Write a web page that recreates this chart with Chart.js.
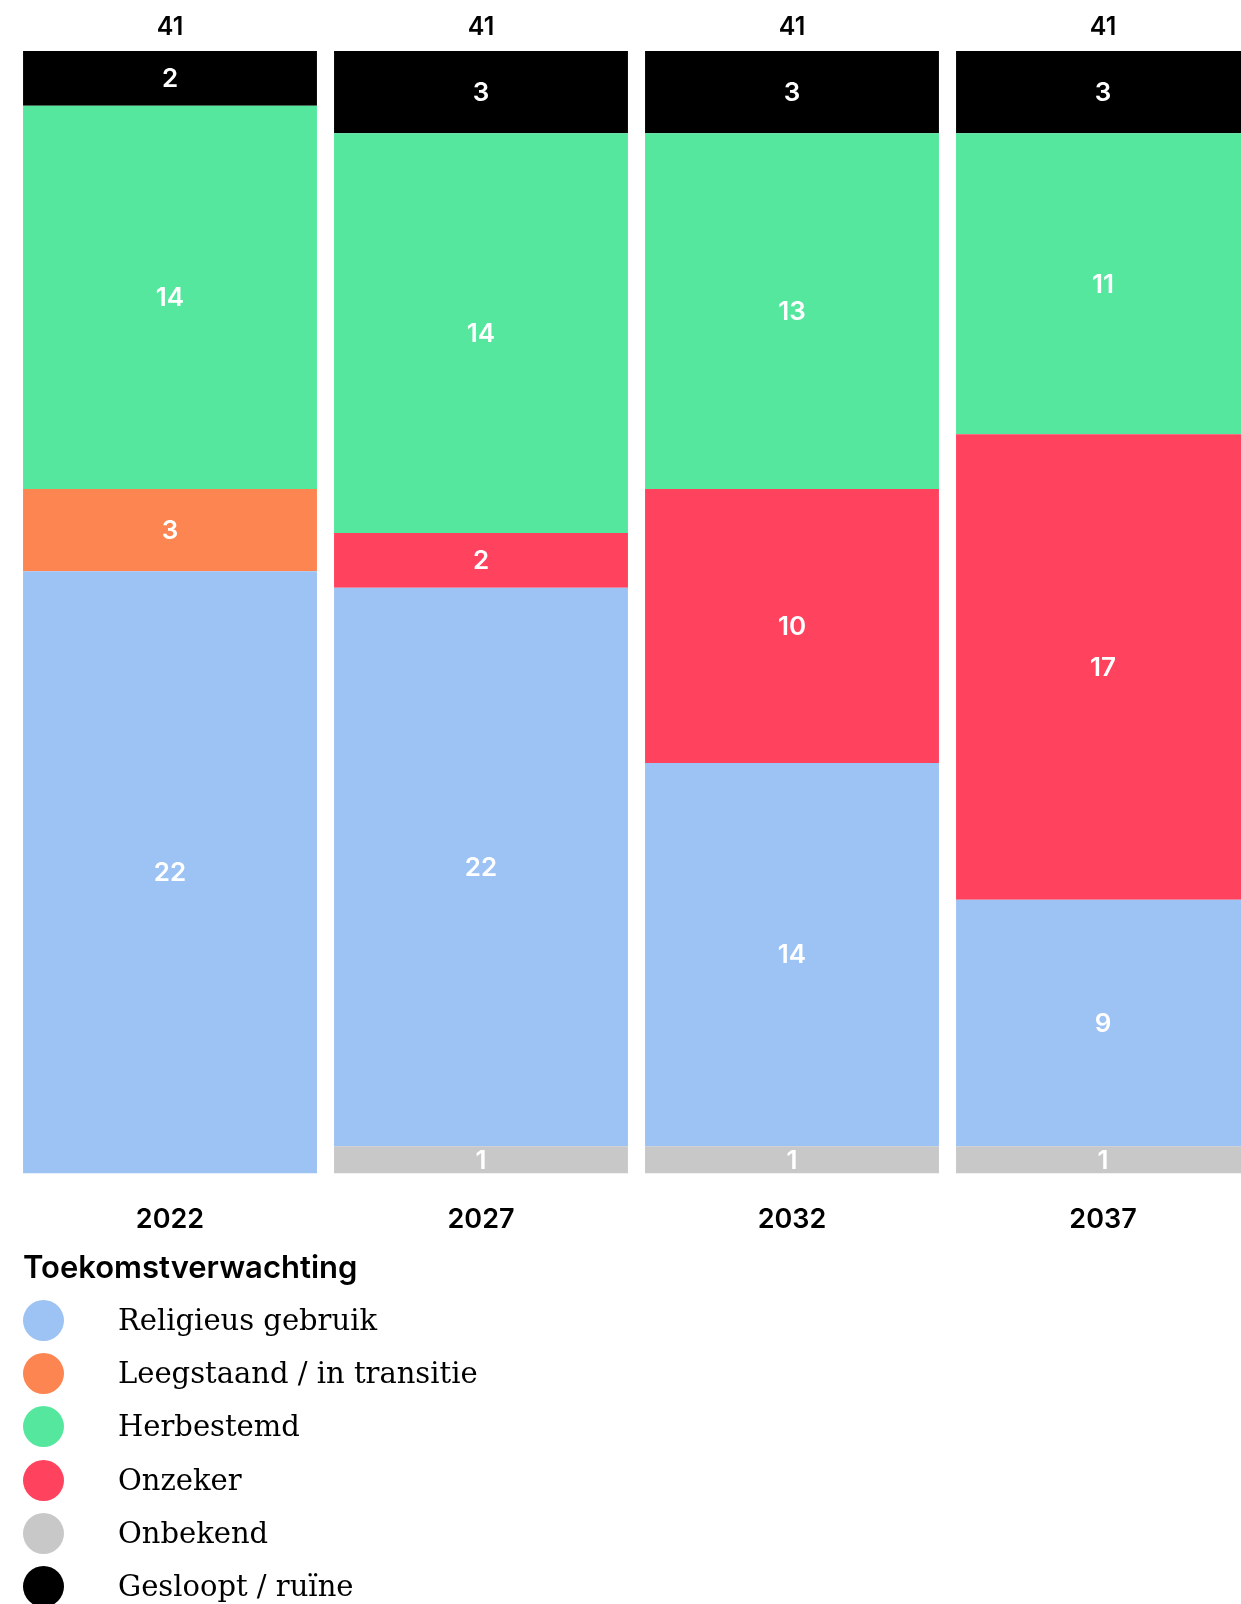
<!DOCTYPE html>
<html>
<head>
<meta charset="utf-8">
<script src="https://cdn.jsdelivr.net/npm/chart.js@4"></script>
<style>
  body { margin: 0; background: #fff; overflow: hidden; width: 1241px; height: 1604px; position: relative; }
  #wrap { position: absolute; left: 0; top: 0; width: 1241px; height: 1264px; overflow: hidden; }
  #legend { position: absolute; left: 23px; top: 1248px; }
  #legend .title { font-family: Inter, sans-serif; font-weight: 600; font-size: 31px; color: #000; height: 38px; line-height: 38px; margin-bottom: 14px; }
  #legend .item { position: relative; height: 53.2px; }
  #legend .dot { position: absolute; left: 0; top: 0; width: 41px; height: 41px; border-radius: 50%; }
  #legend .lbl { position: absolute; left: 95px; top: 20px; transform: translateY(-50%); font-family: "DejaVu Serif", serif; font-size: 29px; color: #000; white-space: nowrap; }
</style>
</head>
<body>
<div id="wrap"><canvas id="kerken" width="1270" height="1264"></canvas></div>
<div id="legend"></div>
<script>
// ---------------- data ----------------
const years = ['2022', '2027', '2032', '2037'];

const onbekend   = [0, 1, 1, 1];
const religieus  = [22, 20.4, 14, 9];
const leegstaand = [3, 0, 0, 0];
const onzeker    = [0, 2, 10, 17];
const herbestemd = [14, 14.6, 13, 11];
const gesloopt   = [2, 3, 3, 3];

// getallen zoals ze in de balken staan
const religieusShown  = [22, 22, 14, 9];
const herbestemdShown = [14, 14, 13, 11];

const totals = [41, 41, 41, 41];

const kleuren = {
  onbekend: '#c8c8c8',
  religieus: '#9dc2f4',
  leegstaand: '#fd8551',
  onzeker: '#ff425e',
  herbestemd: '#55e79e',
  gesloopt: '#000000'
};

// ---------------- chart ----------------
const datasets = [
  { label: 'Onbekend', data: onbekend, backgroundColor: kleuren.onbekend },
  { label: 'Religieus gebruik', data: religieus, shown: religieusShown, backgroundColor: kleuren.religieus },
  { label: 'Leegstaand / in transitie', data: leegstaand, backgroundColor: kleuren.leegstaand },
  { label: 'Onzeker', data: onzeker, backgroundColor: kleuren.onzeker },
  { label: 'Herbestemd', data: herbestemd, shown: herbestemdShown, backgroundColor: kleuren.herbestemd },
  { label: 'Gesloopt / ruïne', data: gesloopt, backgroundColor: kleuren.gesloopt }
];

const labelPlugin = {
  id: 'segmentLabels',
  afterDatasetsDraw(chart) {
    const ctx = chart.ctx;
    ctx.save();
    ctx.textAlign = 'center';
    ctx.textBaseline = 'middle';
    ctx.fillStyle = '#fff';
    ctx.font = '600 26px Inter, sans-serif';
    chart.data.datasets.forEach(function(ds, i) {
      const meta = chart.getDatasetMeta(i);
      meta.data.forEach(function(bar, j) {
        const v = ds.data[j];
        if (!v) return;
        const txt = ds.shown ? ds.shown[j] : v;
        ctx.fillText(String(txt), bar.x, (bar.y + bar.base) / 2 + 1);
      });
    });
    // totalen boven de balken
    ctx.fillStyle = '#000';
    ctx.font = '600 25px Inter, sans-serif';
    const meta0 = chart.getDatasetMeta(0);
    const yScale = chart.scales.y;
    totals.forEach(function(t, j) {
      ctx.fillText(String(t), meta0.data[j].x, yScale.getPixelForValue(t) - 24);
    });
    ctx.restore();
  }
};

const ctx = document.querySelector('#kerken').getContext('2d');
const stackedChart = new Chart(ctx, {
  type: 'bar',
  data: { labels: years, datasets: datasets },
  options: {
    responsive: false,
    animation: false,
    devicePixelRatio: 1,
    layout: { padding: { top: 51, bottom: 6, left: 14.5, right: 11.5 } },
    datasets: { bar: { categoryPercentage: 1, barPercentage: 0.945, borderWidth: 0 } },
    plugins: { legend: { display: false }, tooltip: { enabled: false } },
    scales: {
      x: {
        stacked: true,
        grid: { display: false },
        border: { display: false },
        ticks: { color: '#000', padding: 22, font: { family: 'Inter', weight: '600', size: 27 } }
      },
      y: {
        stacked: true,
        display: false,
        min: 0,
        max: 41
      }
    }
  },
  plugins: [labelPlugin]
});

// ---------------- legend ----------------
const legendOrder = ['Religieus gebruik', 'Leegstaand / in transitie', 'Herbestemd', 'Onzeker', 'Onbekend', 'Gesloopt / ruïne'];
const legend = document.querySelector('#legend');
let html = '<div class="title">Toekomstverwachting</div>';
legendOrder.forEach(function(name) {
  const ds = datasets.find(function(d) { return d.label === name; });
  html += '<div class="item"><span class="dot" style="background:' + ds.backgroundColor + '"></span><span class="lbl">' + name + '</span></div>';
});
legend.innerHTML = html;
</script>
</body>
</html>
